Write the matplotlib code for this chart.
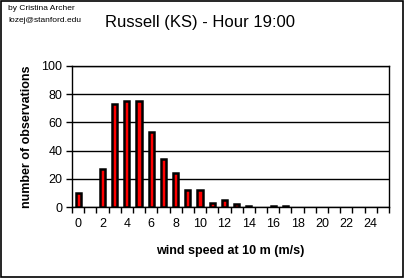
import matplotlib
matplotlib.use("Agg")
import matplotlib.pyplot as plt
from matplotlib.patches import Rectangle

plt.rcParams['font.family'] = ['Liberation Sans', 'DejaVu Sans']

# wind speed classes (m/s) and counts
speeds = list(range(26))
counts = [10, 0, 27, 73, 75, 75, 53, 34, 24, 12, 12, 3, 5, 2, 1, 0, 1, 1,
          0, 0, 0, 0, 0, 0, 0, 0]
tick_labels = [str(s) if s % 2 == 0 and s < 25 else '' for s in speeds]

fig = plt.figure(figsize=(4.05, 2.78), dpi=100)
ax = fig.add_axes([72 / 405, 1 - 207 / 278, 317 / 405, 141 / 278])

bars = ax.bar(speeds, counts, width=0.42, color='#ff0000', edgecolor='black',
              linewidth=1.8, zorder=3)
# empty classes get no bar at all
for b, c in zip(bars, counts):
    if c == 0:
        b.set_visible(False)

ax.set_xlim(-0.5, 25.5)
ax.set_ylim(0, 100)
ax.set_yticks(range(0, 101, 20))
ax.yaxis.grid(True, color='black', linewidth=1)
ax.set_axisbelow(True)

# ticks at category boundaries, labels at centers
ax.set_xticks([s - 0.5 for s in speeds] + [25.5])
ax.set_xticklabels([])
ax.set_xticks(speeds, minor=True)
ax.set_xticklabels(tick_labels, minor=True)
ax.tick_params(axis='x', which='minor', length=0, pad=8, labelsize=9)
ax.tick_params(axis='x', which='major', length=4, width=1, direction='out')
ax.tick_params(axis='y', length=4, width=1, direction='out', labelsize=9, pad=3)

for s in ax.spines.values():
    s.set_linewidth(1)
    s.set_color('black')

ax.set_ylabel('number of observations', fontsize=9, fontweight='bold', labelpad=6)
ax.set_xlabel('wind speed at 10 m (m/s)', fontsize=9, fontweight='bold', labelpad=11)

fig.text(200 / 405, 1 - 22 / 278, 'Russell (KS) - Hour 19:00', fontsize=12,
         ha='center', va='center')
fig.text(8 / 405, 1 - 9 / 278, 'by Cristina Archer', fontsize=6, va='center')
fig.text(8 / 405, 1 - 21 / 278, 'lozej@stanford.edu', fontsize=6, va='center')

fig.patches.append(Rectangle((0.002, 0.003), 0.994, 0.994, transform=fig.transFigure,
                             fill=False, edgecolor='black', linewidth=1.2))

fig.savefig('out.png', dpi=100)
